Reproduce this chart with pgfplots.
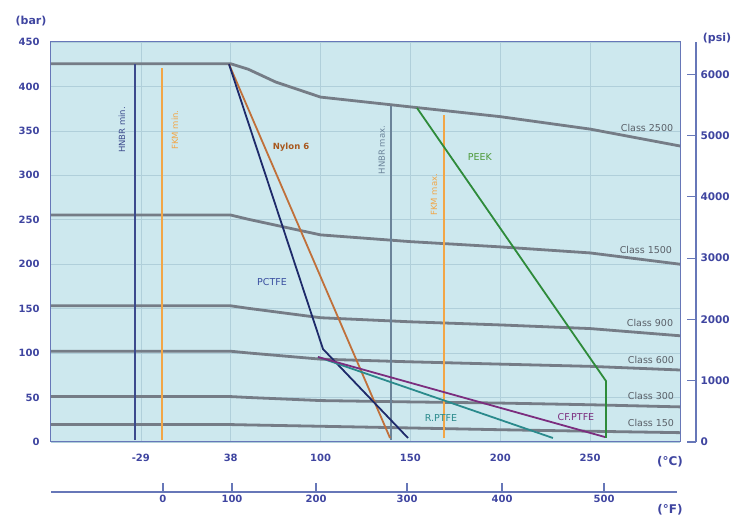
\documentclass[border=0pt]{standalone}
\usepackage{pgfplots}
\pgfplotsset{compat=1.18}
\usepackage{fontspec}
\setmainfont{DejaVu Sans}
\definecolor{bgc}{HTML}{CDE8EE}
\definecolor{gridc}{HTML}{B0CFDA}
\definecolor{classc}{HTML}{757C86}
\definecolor{classt}{HTML}{5A6068}
\definecolor{tickc}{HTML}{3F45A0}
\definecolor{axc}{HTML}{6777B8}
\definecolor{nylon}{HTML}{C0703A}
\definecolor{nylont}{HTML}{A8581E}
\definecolor{pctfe}{HTML}{1E2A6A}
\definecolor{pctfet}{HTML}{3A4FA0}
\definecolor{rptfe}{HTML}{2A8A8C}
\definecolor{cfptfe}{HTML}{7B2D7E}
\definecolor{peek}{HTML}{2E8B3A}
\definecolor{peekt}{HTML}{4E9A3A}
\definecolor{hnbr}{HTML}{3C4A8C}
\definecolor{hnbrmax}{HTML}{6B8399}
\definecolor{fkm}{HTML}{F2A646}

\begin{document}
\begin{tikzpicture}[x=1pt,y=1pt]
\path[use as bounding box] (0,0) rectangle (735,518);
\begin{axis}[
  at={(51pt,76pt)}, anchor=south west,
  scale only axis, width=629pt, height=400pt,
  xmin=0, xmax=7, ymin=0, ymax=450,
  axis background/.style={fill=bgc},
  xtick={1,2,3,4,5,6}, xticklabels={-29,38,100,150,200,250},
  ytick={0,50,...,450},
  yticklabels={0,50,100,150,200,250,300,350,400,450},
  major tick length=0pt,
  grid=major,
  major grid style={gridc, line width=0.6pt},
  axis line style={axc, line width=1pt},
  tick label style={font=\bfseries\fontsize{10}{12}\selectfont, text=tickc},
  xticklabel style={yshift=-9pt},
  yticklabel style={xshift=-8pt},
  clip=false,
]
% pressure classes (bar)
\addplot[classc, line width=2.8pt] coordinates {(0,425.5)(2,425.5)(2.194,419.4)(2.5,405)(3,388)(4,377)(5,366)(6,352)(7,333)};
\addplot[classc, line width=2.8pt] coordinates {(0,255.3)(2,255.3)(2.194,250.6)(3,233)(4,225.4)(5,219.5)(6,212.7)(7,200)};
\addplot[classc, line width=2.8pt] coordinates {(0,153.2)(2,153.2)(2.194,150.4)(3,139.8)(4,135.2)(5,131.7)(6,127.6)(7,119.5)};
\addplot[classc, line width=2.8pt] coordinates {(0,102.1)(2,102.1)(2.194,100.2)(3,93.2)(4,90.2)(5,87.6)(6,85.1)(7,81)};
\addplot[classc, line width=2.8pt] coordinates {(0,51.1)(2,51.1)(2.194,50.1)(3,46.6)(4,45.1)(5,43.8)(6,41.9)(7,39.5)};
\addplot[classc, line width=2.8pt] coordinates {(0,19.6)(2,19.6)(2.194,19.2)(3,17.7)(4,15.8)(5,13.8)(6,12.1)(7,10.5)};
% limit lines
\addplot[hnbr, line width=1.4pt] coordinates {(0.935,2)(0.935,425.5)};
\addplot[fkm, line width=1.4pt] coordinates {(1.235,2)(1.235,421)};
\addplot[hnbrmax, line width=2.4pt] coordinates {(3.784,2)(3.784,378)};
\addplot[fkm, line width=2pt] coordinates {(4.373,4)(4.373,368)};
% materials
\addplot[nylon, line width=1.8pt] coordinates {(1.981,425)(3.773,4.5)};
\addplot[pctfe, line width=1.8pt] coordinates {(1.981,425)(3.027,104.6)(3.973,4.5)};
\addplot[rptfe, line width=1.8pt] coordinates {(2.971,95.6)(5.586,4.5)};
\addplot[cfptfe, line width=1.8pt] coordinates {(2.971,95.6)(6.165,5.6)};
\addplot[peek, line width=1.8pt] coordinates {(4.073,375.8)(6.176,68.6)(6.176,4.5)};
% labels
\node[font=\bfseries\fontsize{8.5}{9}\selectfont, text=nylont] at (axis cs:2.671,332) {Nylon 6};
\node[font=\fontsize{9.5}{10}\selectfont, text=peekt] at (axis cs:4.774,320.6) {PEEK};
\node[font=\fontsize{9.5}{10}\selectfont, text=pctfet] at (axis cs:2.459,180) {PCTFE};
\node[font=\fontsize{9.5}{10}\selectfont, text=rptfe] at (axis cs:4.34,27) {R.PTFE};
\node[font=\fontsize{9.5}{10}\selectfont, text=cfptfe] at (axis cs:5.842,28.1) {CF.PTFE};
\node[font=\fontsize{9.5}{10}\selectfont, text=classt] at (axis cs:6.633,353) {Class 2500};
\node[font=\fontsize{9.5}{10}\selectfont, text=classt] at (axis cs:6.621,216) {Class 1500};
\node[font=\fontsize{9.5}{10}\selectfont, text=classt] at (axis cs:6.666,134) {Class 900};
\node[font=\fontsize{9.5}{10}\selectfont, text=classt] at (axis cs:6.677,92.3) {Class 600};
\node[font=\fontsize{9.5}{10}\selectfont, text=classt] at (axis cs:6.677,51.7) {Class 300};
\node[font=\fontsize{9.5}{10}\selectfont, text=classt] at (axis cs:6.677,21.4) {Class 150};
\node[rotate=90, font=\fontsize{8.5}{9}\selectfont, text=hnbr] at (axis cs:0.79,351) {HNBR min.};
\node[rotate=90, font=\fontsize{8.5}{9}\selectfont, text=fkm] at (axis cs:1.38,351) {FKM min.};
\node[rotate=90, font=\fontsize{8.5}{9}\selectfont, text=hnbrmax] at (axis cs:3.683,328.5) {HNBR max.};
\node[rotate=90, font=\fontsize{8.5}{9}\selectfont, text=fkm] at (axis cs:4.262,278) {FKM max.};
\end{axis}
% psi axis
\begin{axis}[
  at={(51pt,76pt)}, anchor=south west,
  scale only axis, width=645pt, height=400pt,
  xmin=0, xmax=1, ymin=0, ymax=6526.7,
  hide x axis,
  axis y line*=right,
  ytick={0,1000,2000,3000,4000,5000,6000},
  yticklabels={0,1000,2000,3000,4000,5000,6000},
  tick align=inside,
  major tick length=9pt,
  y axis line style={axc, line width=1.2pt},
  ytick style={axc, line width=1.2pt},
  yticklabel style={font=\bfseries\fontsize{10.5}{12}\selectfont, text=tickc, anchor=west, xshift=1pt},
]
\addplot[draw=none] coordinates {(0,0)};
\end{axis}
% deg F axis
\begin{axis}[
  at={(51pt,26pt)}, anchor=south west,
  scale only axis, width=626pt, height=1pt,
  xmin=0, xmax=6.966, ymin=0, ymax=1,
  hide y axis,
  axis x line*=bottom,
  xtick={1.246,2.014,2.949,3.962,5.019,6.154},
  xticklabels={0,100,200,300,400,500},
  tick align=inside,
  major tick length=9pt,
  x axis line style={axc, line width=1.2pt},
  xtick style={axc, line width=1.2pt},
  xticklabel style={font=\bfseries\fontsize{10}{12}\selectfont, text=tickc},
]
\addplot[draw=none] coordinates {(0,0)};
\end{axis}
\node[font=\bfseries\fontsize{11}{12}\selectfont, text=tickc] at (31,497) {(bar)};
\node[font=\bfseries\fontsize{11}{12}\selectfont, text=tickc] at (717,480) {(psi)};
\node[font=\bfseries\fontsize{12}{13}\selectfont, text=tickc] at (670,56) {(°C)};
\node[font=\bfseries\fontsize{12}{13}\selectfont, text=tickc] at (670,8) {(°F)};
\end{tikzpicture}
\end{document}
